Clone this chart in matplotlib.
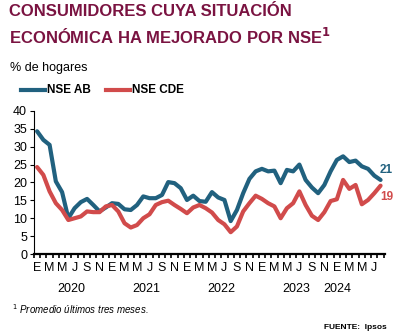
import numpy as np
import matplotlib.pyplot as plt

plt.rcParams['font.family'] = ['Liberation Sans', 'DejaVu Sans']

# ============================================
# data (monthly, Jan 2020 - Aug 2024)
# ============================================
nse_ab = [34.3, 31.9, 30.5, 20.3, 17.3, 10.0, 12.8, 14.5, 15.4, 13.7, 11.9, 13.0,
          14.2, 14.0, 12.5, 12.3, 13.7, 16.1, 15.6, 15.6, 16.5, 20.1, 19.8, 18.4,
          15.1, 16.3, 14.8, 14.6, 17.3, 15.8, 15.1, 9.2, 12.3, 17.0, 21.0, 23.1,
          23.8, 23.1, 23.3, 19.8, 23.5, 23.1, 25.0, 20.7, 18.6, 17.0, 19.3, 23.1,
          26.3, 27.3, 25.7, 26.1, 24.5, 23.8, 21.9, 20.7]
nse_cde = [24.3, 22.1, 17.5, 14.2, 12.3, 9.5, 10.0, 10.5, 11.9, 11.7, 11.7, 13.3,
           13.7, 11.9, 8.6, 7.4, 8.1, 10.0, 11.1, 13.7, 14.5, 14.9, 13.7, 12.6,
           11.4, 13.0, 13.7, 12.8, 11.6, 9.5, 8.3, 6.1, 7.7, 11.9, 14.2, 16.3,
           15.4, 14.2, 13.3, 10.0, 12.8, 14.2, 17.5, 13.7, 10.7, 9.5, 11.7, 14.8,
           15.3, 20.7, 18.2, 19.3, 13.9, 15.1, 17.0, 19.1]
month_letters = ["E", "M", "M", "J", "S", "N"]
years = ["2020", "2021", "2022", "2023", "2024"]

blue = "#21617f"
red = "#d14b4b"
maroon = "#7a1341"

x = np.arange(len(nse_ab))

fig = plt.figure(figsize=(3.97, 3.34), dpi=100)
ax = fig.add_axes([0.0856, 0.2395, 0.884, 0.4285])

ax.plot(x, nse_ab, color=blue, lw=3, solid_joinstyle="round", solid_capstyle="round")
ax.plot(x, nse_cde, color=red, lw=3, solid_joinstyle="round", solid_capstyle="round")

# end labels
ax.text(x[-1] - 0.1, nse_ab[-1] + 2.8, f"{nse_ab[-1]:.0f}", color=blue,
        fontsize=8.5, fontweight="bold", va="center", ha="left")
ax.text(x[-1] - 0.1, nse_cde[-1] - 3.1, f"{nse_cde[-1]:.0f}", color=red,
        fontsize=8.5, fontweight="bold", va="center", ha="left")

# axes style
ax.set_xlim(-0.5, len(x) - 0.3)
ax.set_ylim(0, 40)
ax.set_yticks(range(0, 41, 5))
ax.tick_params(axis="y", labelsize=9, length=3, width=0.8, pad=2)
for s in ["top", "right"]:
    ax.spines[s].set_visible(False)
ax.spines["bottom"].set_linewidth(1.6)
ax.spines["left"].set_linewidth(0.8)

ax.set_xticks(np.arange(-0.5, len(x), 1), minor=True)
ax.set_xticks(np.arange(0, len(x), 2))
ax.set_xticklabels([month_letters[(i // 2) % 6] for i in range(0, len(x), 2)])
ax.tick_params(axis="x", which="major", length=0, labelsize=9, pad=6)
ax.tick_params(axis="x", which="minor", length=3, width=1.2, direction="out")

year_pos = [5.5, 17.5, 29.5, 41.5, 48.1]
for yp, yl in zip(year_pos, years):
    ax.text(yp, -0.2, yl, transform=ax.get_xaxis_transform(), ha="center",
            va="top", fontsize=9)

# titles
fig.text(0.023, 0.965, "CONSUMIDORES CUYA SITUACIÓN", color=maroon, fontsize=12,
         fontweight="bold", va="center")
fig.text(0.023, 0.89, "ECONÓMICA HA MEJORADO POR NSE$^{\\mathbf{1}}$", color=maroon,
         fontsize=12, fontweight="bold", va="center")
fig.text(0.025, 0.797, "% de hogares", fontsize=9, va="center")

# legend
fig.add_artist(plt.Line2D([0.053, 0.113], [0.73, 0.73], color=blue, lw=3,
                          transform=fig.transFigure))
fig.text(0.118, 0.73, "NSE AB", fontsize=8.5, fontweight="bold", va="center")
fig.add_artist(plt.Line2D([0.266, 0.328], [0.73, 0.73], color=red, lw=3,
                          transform=fig.transFigure))
fig.text(0.333, 0.73, "NSE CDE", fontsize=8.5, fontweight="bold", va="center")

# footnotes
fig.text(0.03, 0.075, "$^{1}$ Promedio últimos tres meses.", fontsize=7,
         style="italic", va="center")
fig.text(0.975, 0.018, "FUENTE:  Ipsos", fontsize=6, fontweight="bold",
         va="center", ha="right")

fig.savefig("out.png", dpi=100)
